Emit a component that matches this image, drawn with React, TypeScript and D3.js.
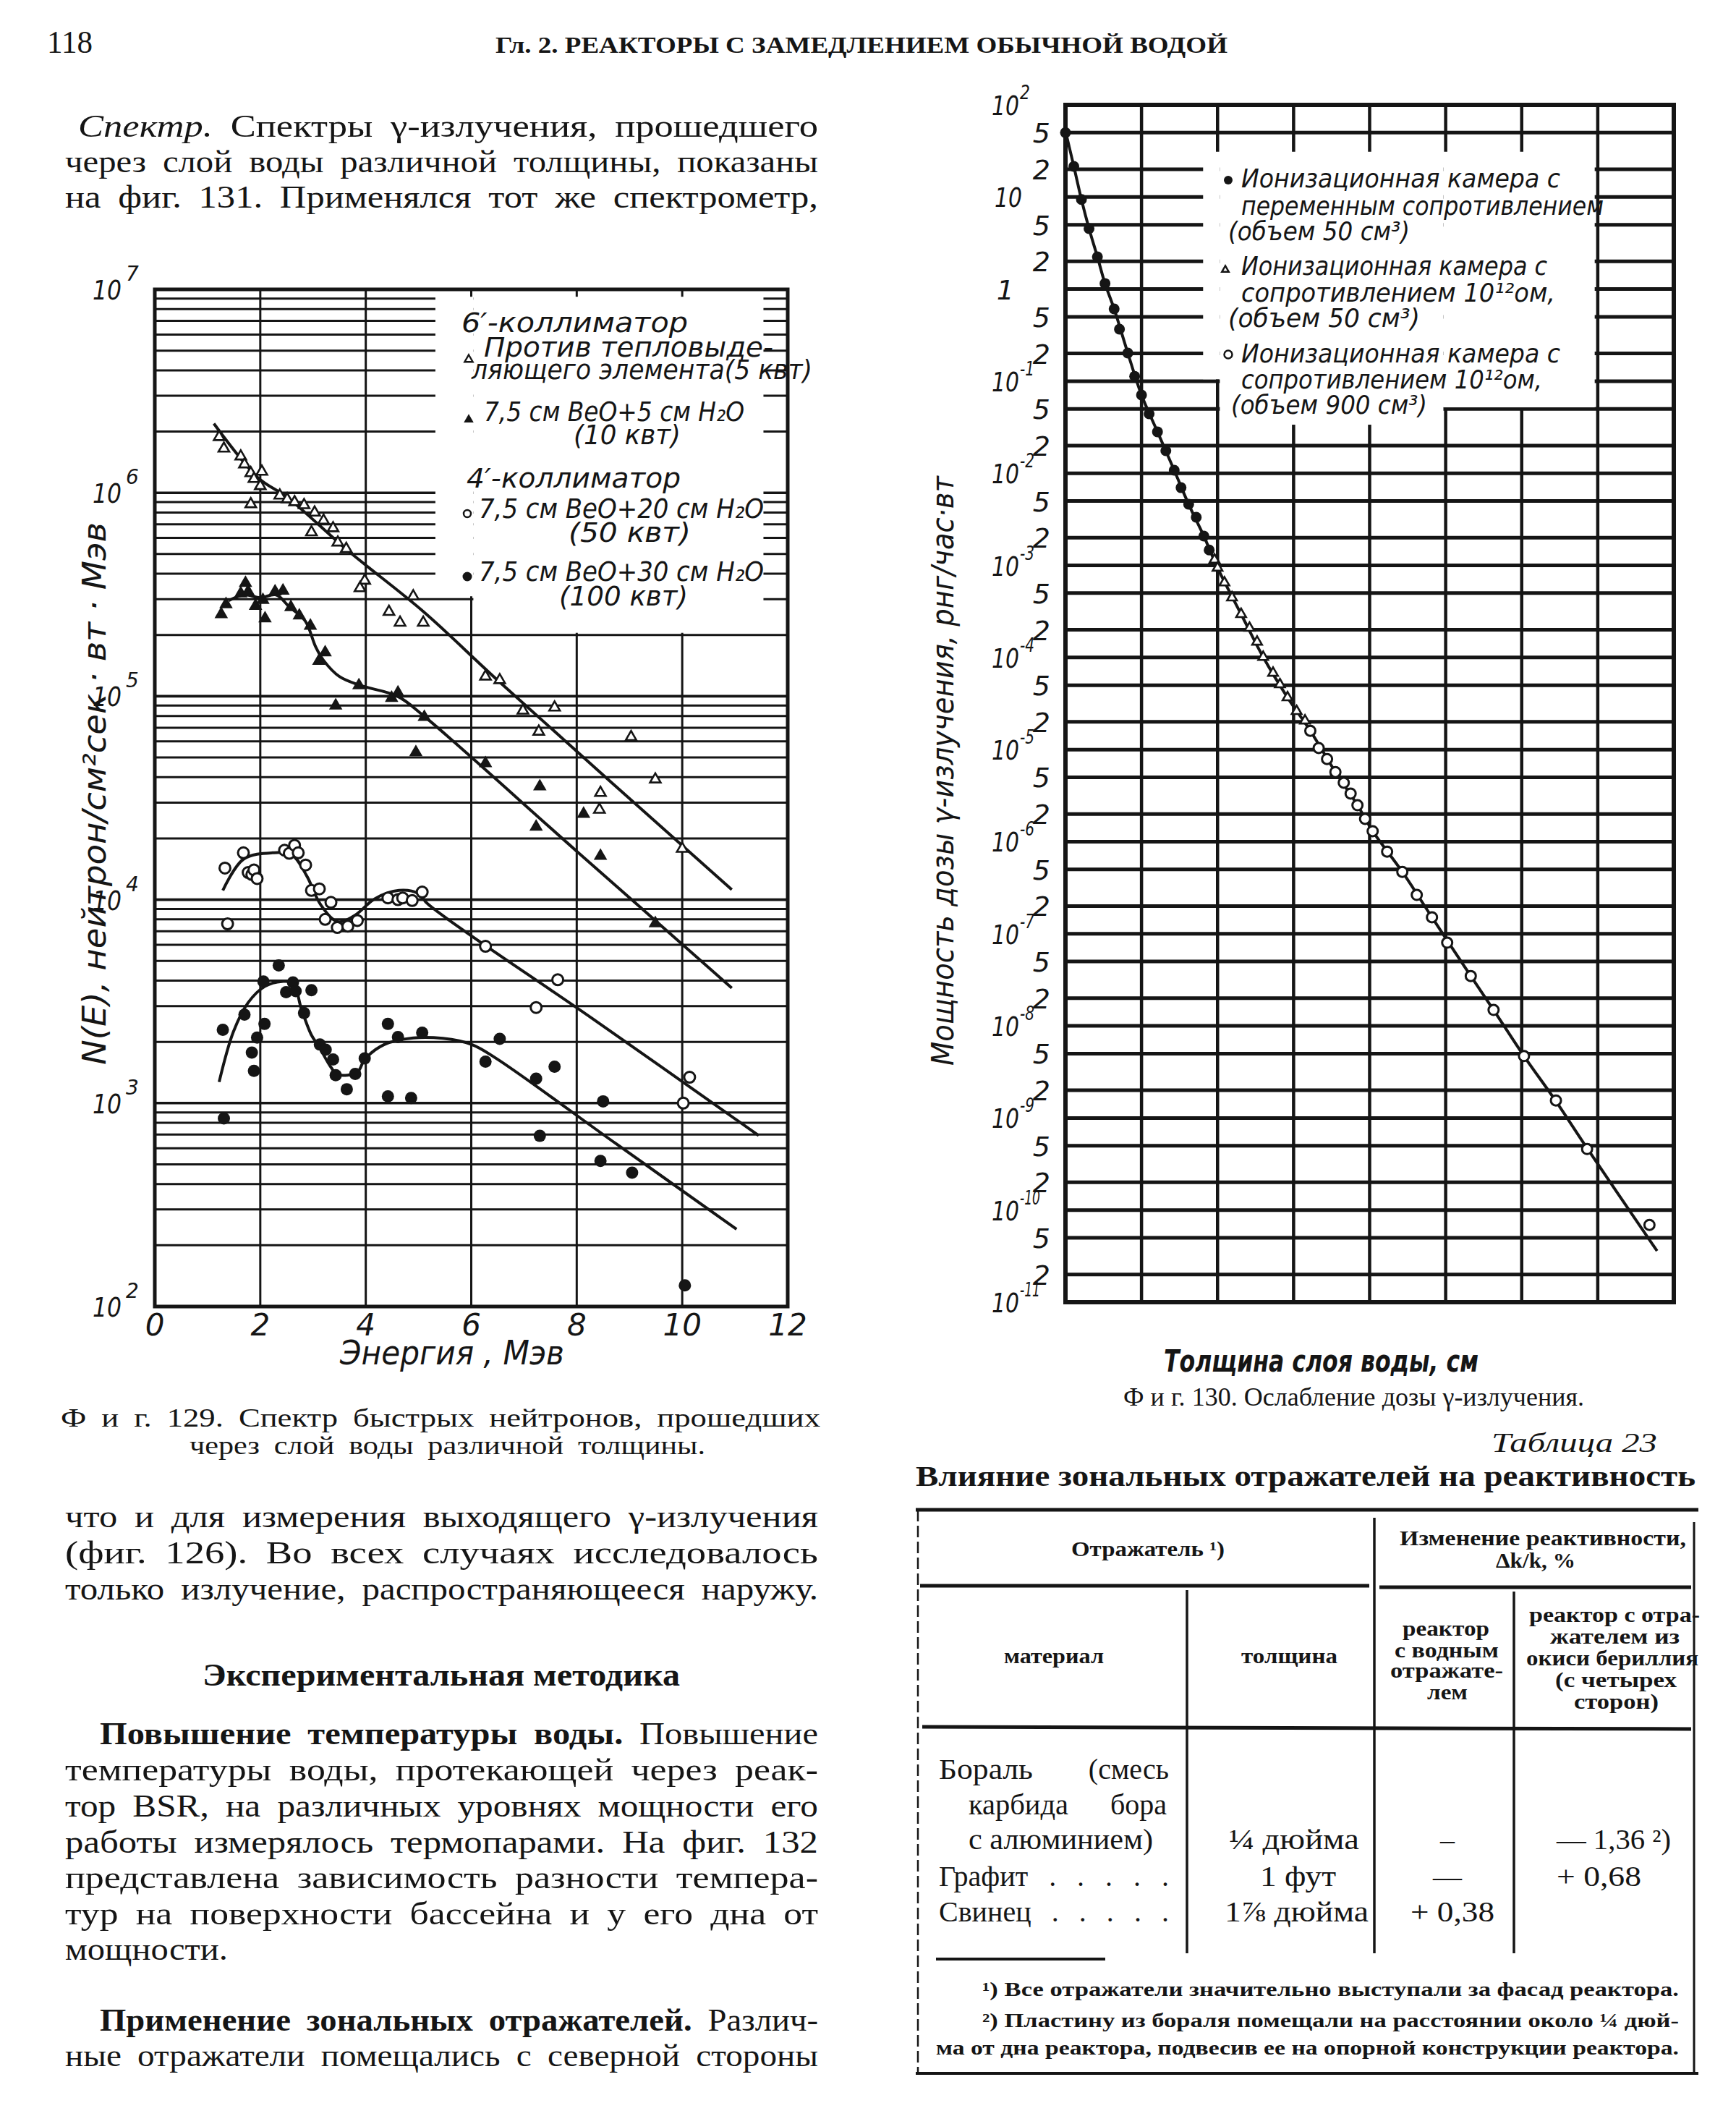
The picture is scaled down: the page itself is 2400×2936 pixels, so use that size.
import { useEffect, useRef } from 'react';
import * as d3 from 'd3';

type Pt = [number, number];

// ---- Фиг. 129: energy (MeV) vs N(E) ----
const energyTicks = [0, 2, 4, 6, 8, 10, 12];
const energyGrid = [2, 4, 6, 8, 10];
const spectrumDecades = [7, 6, 5, 4, 3, 2];

// 6' collimator, против тепловыделяющего элемента (5 квт) — open triangles
const openTri: Pt[] = [
  [1.22, 1.88e6], [1.31, 1.65e6], [1.63, 1.51e6], [1.7, 1.38e6], [1.82, 1.25e6], [1.88, 1.17e6],
  [2.03, 1.27e6], [2.0, 1.08e6], [1.82, 8.8e5], [2.37, 9.7e5], [2.51, 9.3e5], [2.65, 9.0e5],
  [2.83, 8.7e5], [3.03, 8.0e5], [3.2, 7.3e5], [2.97, 6.4e5], [3.38, 6.7e5], [3.47, 5.7e5],
  [3.63, 5.3e5], [3.98, 3.7e5], [3.89, 3.4e5], [4.44, 2.6e5], [4.65, 2.3e5], [4.9, 3.1e5],
  [5.09, 2.3e5], [6.27, 1.25e5], [6.54, 1.2e5], [6.98, 8.5e4], [7.58, 8.8e4], [7.28, 6.7e4],
  [9.03, 6.3e4], [9.49, 3.9e4], [8.45, 3.35e4], [8.43, 2.77e4], [10.0, 1.78e4],
];
const openTriFit: Pt[] = [
  [1.12, 2.19e6], [1.95, 1.19e6], [2.51, 9.5e5], [3.66, 5.2e5], [5.09, 2.61e5], [6.56, 1.16e5], [10.94, 1.12e4],
];

// 7,5 см BeO + 5 см H2O (10 квт) — filled triangles
const filledTri: Pt[] = [
  [1.26, 2.53e5], [1.35, 2.83e5], [1.63, 3.2e5], [1.72, 3.6e5], [1.77, 3.27e5], [1.91, 2.78e5],
  [2.05, 2.97e5], [2.09, 2.41e5], [2.28, 3.27e5], [2.43, 3.3e5], [2.58, 2.74e5], [2.74, 2.49e5],
  [2.95, 2.22e5], [3.23, 1.64e5], [3.11, 1.49e5], [3.87, 1.13e5], [3.43, 9.0e4], [4.61, 1.04e5],
  [4.49, 9.8e4], [5.11, 7.9e4], [4.95, 5.3e4], [6.27, 4.68e4], [7.3, 3.6e4], [7.23, 2.28e4],
  [8.13, 2.64e4], [8.45, 1.64e4], [9.49, 7.65e3],
];
const filledTriFit: Pt[] = [
  [1.4, 2.95e5], [1.7, 3.15e5], [2.0, 3.05e5], [2.3, 3.15e5], [2.55, 2.75e5], [2.85, 2.35e5],
  [3.05, 1.75e5], [3.2, 1.5e5], [3.5, 1.25e5], [3.9, 1.13e5], [4.6, 1.0e5], [5.1, 8.0e4],
  [8.0, 1.73e4], [10.94, 3.68e3],
];

// 7,5 см BeO + 20 см H2O (50 квт) — open circles
const openCirc: Pt[] = [
  [1.33, 1.43e4], [1.68, 1.7e4], [1.77, 1.36e4], [1.84, 1.33e4], [1.88, 1.4e4], [1.94, 1.27e4],
  [1.38, 7.6e3], [2.46, 1.75e4], [2.55, 1.69e4], [2.65, 1.85e4], [2.72, 1.7e4], [2.86, 1.48e4],
  [2.97, 1.11e4], [3.12, 1.13e4], [3.34, 9.7e3], [3.23, 8.0e3], [3.46, 7.3e3], [3.66, 7.4e3],
  [3.84, 7.9e3], [4.42, 1.02e4], [4.61, 1.0e4], [4.7, 1.02e4], [4.88, 9.9e3], [5.07, 1.09e4],
  [6.27, 5.9e3], [7.64, 4.04e3], [7.23, 2.95e3], [10.14, 1.34e3], [10.02, 1.0e3],
];
const openCircFit: Pt[] = [
  [1.29, 1.11e4], [1.68, 1.58e4], [2.23, 1.7e4], [2.6, 1.66e4], [2.88, 1.31e4], [3.15, 9.4e3],
  [3.47, 7.8e3], [3.8, 8.4e3], [4.17, 1.01e4], [4.63, 1.11e4], [5.0, 1.07e4], [5.18, 9.5e3],
  [8.3, 2.6e3], [11.45, 693],
];

// 7,5 см BeO + 30 см H2O (100 квт) — filled circles
const filledCirc: Pt[] = [
  [1.31, 840], [1.29, 2.29e3], [1.7, 2.72e3], [1.84, 1.77e3], [1.88, 1.44e3], [1.94, 2.1e3],
  [2.06, 3.96e3], [2.08, 2.45e3], [2.35, 4.75e3], [2.49, 3.51e3], [2.62, 3.92e3], [2.67, 3.55e3],
  [2.83, 2.77e3], [2.97, 3.59e3], [3.13, 1.94e3], [3.24, 1.83e3], [3.38, 1.64e3], [3.43, 1.37e3],
  [3.64, 1.17e3], [3.8, 1.39e3], [3.98, 1.66e3], [4.42, 2.45e3], [4.61, 2.11e3], [5.07, 2.22e3],
  [4.42, 1.08e3], [4.86, 1.06e3], [6.27, 1.6e3], [6.54, 2.07e3], [7.23, 1.32e3], [7.58, 1.51e3],
  [8.5, 1.02e3], [7.3, 690], [8.45, 520], [9.05, 455], [10.05, 127],
];
const filledCircFit: Pt[] = [
  [1.22, 1.27e3], [1.49, 2.24e3], [1.77, 3.12e3], [2.09, 3.75e3], [2.41, 3.96e3], [2.62, 3.89e3],
  [2.78, 2.9e3], [2.97, 2.16e3], [3.11, 1.9e3], [3.34, 1.5e3], [3.47, 1.38e3], [3.84, 1.42e3],
  [3.98, 1.64e3], [4.35, 1.94e3], [4.9, 2.09e3], [5.46, 2.08e3], [6.01, 1.94e3], [6.47, 1.66e3],
  [8.75, 630], [11.03, 240],
];

// ---- Фиг. 130: water thickness (grid cells, unlabelled) vs dose rate ----
const thicknessGrid = [1, 2, 3, 4, 5, 6, 7];
const doseDecades = [2, 1, 0, -1, -2, -3, -4, -5, -6, -7, -8, -9, -10, -11];
const doseMinor = [2, 5];

const doseFilled: Pt[] = [
  [0, 50], [0.11, 21.5], [0.21, 9.4], [0.31, 4.54], [0.42, 2.24], [0.52, 1.15], [0.64, 0.61],
  [0.71, 0.367], [0.82, 0.202], [0.91, 0.113], [1.0, 0.0708], [1.1, 0.0443], [1.21, 0.0282],
  [1.32, 0.0176], [1.43, 0.0108], [1.52, 6.98e-3], [1.62, 4.61e-3], [1.72, 3.33e-3],
  [1.82, 2.08e-3], [1.89, 1.47e-3],
];
const doseTri: Pt[] = [
  [1.96, 1.15e-3], [2.0, 9.4e-4], [2.09, 6.5e-4], [2.19, 4.47e-4], [2.31, 2.95e-4], [2.42, 2.09e-4],
  [2.52, 1.48e-4], [2.6, 1.01e-4], [2.73, 6.8e-5], [2.82, 5.1e-5], [2.92, 3.68e-5], [3.04, 2.61e-5],
  [3.15, 2.06e-5],
];
const doseCirc: Pt[] = [
  [3.22, 1.6e-5], [3.33, 1.04e-5], [3.44, 7.9e-6], [3.55, 5.7e-6], [3.66, 4.37e-6], [3.75, 3.33e-6],
  [3.84, 2.49e-6], [3.94, 1.77e-6], [4.04, 1.3e-6], [4.23, 7.8e-7], [4.43, 4.7e-7], [4.62, 2.64e-7],
  [4.82, 1.51e-7], [5.02, 8.0e-8], [5.33, 3.48e-8], [5.63, 1.49e-8], [6.03, 4.7e-9], [6.45, 1.55e-9],
  [6.86, 4.6e-10], [7.68, 6.9e-11],
];
const doseFit: Pt[] = [
  [0, 52], [0.11, 21.5], [0.21, 9.4], [0.31, 4.54], [0.42, 2.24], [0.52, 1.15], [0.64, 0.61],
  [0.82, 0.202], [1.0, 0.0708], [1.21, 0.0282], [1.43, 0.0108], [1.62, 4.6e-3], [1.82, 2.08e-3],
  [2.0, 9.4e-4], [2.31, 2.95e-4], [2.6, 1.01e-4], [2.92, 3.68e-5], [3.22, 1.6e-5], [3.55, 5.7e-6],
  [3.84, 2.49e-6], [4.04, 1.3e-6], [4.43, 4.7e-7], [4.82, 1.51e-7], [5.33, 3.48e-8], [5.63, 1.49e-8],
  [6.03, 4.7e-9], [6.45, 1.52e-9], [6.86, 4.7e-10], [7.78, 3.6e-11],
];

const SERIF = '"Liberation Serif", "DejaVu Serif", serif';
const DRAFT = '"DejaVu Sans", "Liberation Sans", sans-serif';
const INK = '#151515';

type G = d3.Selection<SVGGElement, unknown, null, undefined>;
interface TOpts {
  size: number; len?: number; anchor?: string; bold?: boolean; italic?: boolean;
  font?: string; rotate?: number; justify?: boolean; words?: boolean;
}

function put(g: G, s: string | [string, boolean][], x: number, y: number, o: TOpts) {
  const t = g.append('text').attr('x', x).attr('y', y)
    .attr('font-family', o.font ?? SERIF).attr('font-size', o.size)
    .attr('fill', INK).attr('text-anchor', o.anchor ?? 'start');
  if (o.bold) t.attr('font-weight', 'bold');
  if (o.italic) t.attr('font-style', 'italic');
  if (o.rotate) t.attr('transform', `rotate(${o.rotate},${x},${y})`);
  if (typeof s === 'string') t.text(s);
  else s.forEach(([part, b]) => {
    const sp = t.append('tspan').text(part);
    if (b) sp.attr('font-weight', 'bold');
  });
  if (o.len) {
    const node = t.node() as SVGTextElement;
    const full = typeof s === 'string' ? s : s.map(p => p[0]).join('');
    const spaces = (full.match(/ /g) || []).length;
    const nat = node.getComputedTextLength();
    if (o.words && nat < o.len && spaces > 0) {
      t.attr('word-spacing', (o.len - nat) / spaces);
      return t;
    }
    if (o.justify && nat < o.len && spaces > 0) {
      // part of the slack goes into the word gaps, the rest widens the glyphs
      t.attr('word-spacing', Math.min((o.len - nat) / spaces, o.size * 0.22));
    }
    t.attr('textLength', o.len).attr('lengthAdjust', 'spacingAndGlyphs');
  }
  return t;
}

function line(g: G, x1: number, y1: number, x2: number, y2: number, w: number, dash?: string) {
  const l = g.append('line').attr('x1', x1).attr('y1', y1).attr('x2', x2).attr('y2', y2)
    .attr('stroke', INK).attr('stroke-width', w);
  if (dash) l.attr('stroke-dasharray', dash);
  return l;
}

function drawSpectrum(g: G) {
  const sx = d3.scaleLinear().domain([0, 12]).range([214, 1089]);
  const sy = d3.scaleLog().domain([1e2, 1e7]).range([1806, 400]);

  // grid
  for (let k = 2; k <= 6; k++) {
    for (let m = 1; m <= 9; m++) {
      const v = m * Math.pow(10, k);
      if (v <= 1e2) continue;
      line(g, sx(0), sy(v), sx(12), sy(v), m === 1 ? 3.6 : 3);
    }
  }
  energyGrid.forEach(e => line(g, sx(e), sy(1e7), sx(e), sy(1e2), 3));

  // legend knock-out
  g.append('rect').attr('x', sx(5.32)).attr('y', sy(9.2e6))
    .attr('width', sx(6.04) - sx(5.32)).attr('height', sy(3.1e5) - sy(9.2e6)).attr('fill', '#fff');
  g.append('rect').attr('x', sx(6.04)).attr('y', sy(9.2e6))
    .attr('width', sx(11.54) - sx(6.04)).attr('height', sy(2.05e5) - sy(9.2e6)).attr('fill', '#fff');

  g.append('rect').attr('x', sx(0)).attr('y', sy(1e7))
    .attr('width', sx(12) - sx(0)).attr('height', sy(1e2) - sy(1e7))
    .attr('fill', 'none').attr('stroke', INK).attr('stroke-width', 5);

  // axes labels
  energyTicks.forEach(e => put(g, String(e), sx(e), 1846, { size: 42, italic: true, anchor: 'middle', font: DRAFT }));
  spectrumDecades.forEach(k => {
    const y = sy(Math.pow(10, k));
    put(g, '10', 168, y + 14, { size: 38, italic: true, anchor: 'end', font: DRAFT, len: 40 });
    put(g, String(k), 174, y - 12, { size: 28, italic: true, font: DRAFT });
  });
  put(g, 'Энергия , Мэв', 470, 1886, { size: 46, italic: true, font: DRAFT, len: 310 });
  put(g, 'N(E), нейтрон/см²сек · вт · Мэв', 146, 1472, { size: 44, italic: true, font: DRAFT, len: 750, rotate: -90 });

  // fitted curves
  const ln = d3.line<Pt>().x(d => sx(d[0])).y(d => sy(d[1])).curve(d3.curveCatmullRom.alpha(0.5));
  [openTriFit, filledTriFit, openCircFit, filledCircFit].forEach(fit => {
    g.append('path').attr('d', ln(fit) ?? '').attr('fill', 'none')
      .attr('stroke', INK).attr('stroke-width', 4);
  });

  const tri = d3.symbol().type(d3.symbolTriangle);
  openTri.forEach(d => g.append('path').attr('d', tri.size(95)() ?? '')
    .attr('transform', `translate(${sx(d[0])},${sy(d[1])})`)
    .attr('fill', '#fff').attr('stroke', INK).attr('stroke-width', 2.6));
  filledTri.forEach(d => g.append('path').attr('d', tri.size(150)() ?? '')
    .attr('transform', `translate(${sx(d[0])},${sy(d[1])})`).attr('fill', INK));
  openCirc.forEach(d => g.append('circle').attr('cx', sx(d[0])).attr('cy', sy(d[1])).attr('r', 7.5)
    .attr('fill', '#fff').attr('stroke', INK).attr('stroke-width', 3));
  filledCirc.forEach(d => g.append('circle').attr('cx', sx(d[0])).attr('cy', sy(d[1])).attr('r', 8.5)
    .attr('fill', INK));

  // legend
  const L = { size: 38, italic: true, font: DRAFT };
  put(g, '6′-коллиматор', 638, 459, { ...L, len: 313 });
  put(g, 'Против тепловыде-', 669, 493, { ...L, len: 400 });
  put(g, 'ляющего элемента(5 квт)', 652, 524, { ...L, len: 471 });
  put(g, '7,5 см  BeO+5 см H₂O', 669, 582, { ...L, len: 360 });
  put(g, '(10 квт)', 793, 614, { ...L, len: 148 });
  put(g, '4′-коллиматор', 645, 674, { ...L, len: 296 });
  put(g, '7,5 см  BeO+20 см H₂O', 662, 716, { ...L, len: 394 });
  put(g, '(50 квт)', 786, 749, { ...L, len: 169 });
  put(g, '7,5 см  BeO+30 см H₂O', 662, 803, { ...L, len: 394 });
  put(g, '(100 квт)', 773, 837, { ...L, len: 178 });
  g.append('path').attr('d', tri.size(55)() ?? '').attr('transform', 'translate(648,497)')
    .attr('fill', '#fff').attr('stroke', INK).attr('stroke-width', 2.4);
  g.append('path').attr('d', tri.size(80)() ?? '').attr('transform', 'translate(648,580)').attr('fill', INK);
  g.append('circle').attr('cx', 646).attr('cy', 710).attr('r', 5).attr('fill', '#fff')
    .attr('stroke', INK).attr('stroke-width', 2.5);
  g.append('circle').attr('cx', 646).attr('cy', 797).attr('r', 6.5).attr('fill', INK);
}

function drawDose(g: G) {
  const sx = d3.scaleLinear().domain([0, 8]).range([1473, 2314]);
  const sy = d3.scaleLog().domain([1e-11, 1e2]).range([1800, 145]);

  doseDecades.forEach(k => {
    const base = Math.pow(10, k);
    if (k > -11 && k < 2) line(g, sx(0), sy(base), sx(8), sy(base), 5);
    if (k < 2) doseMinor.forEach(m => line(g, sx(0), sy(m * base), sx(8), sy(m * base), 5));
  });
  thicknessGrid.forEach(t => line(g, sx(t), sy(1e2), sx(t), sy(1e-11), 4.5));

  // legend knock-out
  const knock = (x0: number, x1: number, y0: number, y1: number) =>
    g.append('rect').attr('x', sx(x0)).attr('y', sy(y0)).attr('width', sx(x1) - sx(x0))
      .attr('height', sy(y1) - sy(y0)).attr('fill', '#fff');
  knock(1.81, 2.03, 31, 0.105);
  knock(2.03, 4.97, 31, 0.0337);
  knock(4.97, 6.96, 31, 0.052);

  g.append('rect').attr('x', sx(0)).attr('y', sy(1e2)).attr('width', sx(8) - sx(0))
    .attr('height', sy(1e-11) - sy(1e2)).attr('fill', 'none').attr('stroke', INK).attr('stroke-width', 6);

  // tick labels
  const T = { size: 38, italic: true, font: DRAFT };
  doseDecades.forEach(k => {
    const base = Math.pow(10, k);
    const y = sy(base);
    if (k === 0) put(g, '1', 1402, y + 14, { ...T, anchor: 'end' });
    else if (k === 1) put(g, '10', 1413, y + 14, { ...T, anchor: 'end', len: 38 });
    else {
      put(g, '10', 1409, y + 14, { ...T, anchor: 'end', len: 38 });
      put(g, String(k), 1410, y - 8, { size: 27, italic: true, font: DRAFT, len: k < 0 ? (k <= -10 ? 28 : 20) : 14 });
    }
    if (k < 2) doseMinor.forEach(m => put(g, String(m), 1452, sy(m * base) + 14, { ...T, anchor: 'end' }));
  });
  put(g, 'Мощность дозы γ-излучения, рнг/час·вт', 1318, 1473, { size: 42, italic: true, font: DRAFT, len: 815, rotate: -90 });
  put(g, 'Толщина слоя воды, см', 1609, 1896, { size: 42, italic: true, bold: true, font: DRAFT, len: 435 });

  const ln = d3.line<Pt>().x(d => sx(d[0])).y(d => sy(d[1])).curve(d3.curveCatmullRom.alpha(0.5));
  g.append('path').attr('d', ln(doseFit) ?? '').attr('fill', 'none').attr('stroke', INK).attr('stroke-width', 4);

  const tri = d3.symbol().type(d3.symbolTriangle).size(80);
  doseFilled.forEach(d => g.append('circle').attr('cx', sx(d[0])).attr('cy', sy(d[1])).attr('r', 7.5).attr('fill', INK));
  doseTri.forEach(d => g.append('path').attr('d', tri() ?? '').attr('transform', `translate(${sx(d[0])},${sy(d[1])})`)
    .attr('fill', '#fff').attr('stroke', INK).attr('stroke-width', 2.6));
  doseCirc.forEach(d => g.append('circle').attr('cx', sx(d[0])).attr('cy', sy(d[1])).attr('r', 7)
    .attr('fill', '#fff').attr('stroke', INK).attr('stroke-width', 3));

  // legend
  const L = { size: 36, italic: true, font: DRAFT };
  put(g, 'Ионизационная камера с', 1716, 259, { ...L, len: 441 });
  put(g, 'переменным сопротивлением', 1716, 297, { ...L, len: 501 });
  put(g, '(объем 50 см³)', 1698, 332, { ...L, len: 251 });
  put(g, 'Ионизационная камера с', 1716, 380, { ...L, len: 423 });
  put(g, 'сопротивлением 10¹²ом,', 1716, 417, { ...L, len: 434 });
  put(g, '(объем 50 см³)', 1698, 452, { ...L, len: 265 });
  put(g, 'Ионизационная камера с', 1716, 501, { ...L, len: 441 });
  put(g, 'сопротивлением 10¹²ом,', 1716, 537, { ...L, len: 416 });
  put(g, '(объем 900 см³)', 1702, 572, { ...L, len: 271 });
  g.append('circle').attr('cx', 1698).attr('cy', 249).attr('r', 6).attr('fill', INK);
  g.append('path').attr('d', d3.symbol().type(d3.symbolTriangle).size(40)() ?? '')
    .attr('transform', 'translate(1694,373)').attr('fill', '#fff').attr('stroke', INK).attr('stroke-width', 2.4);
  g.append('circle').attr('cx', 1698).attr('cy', 490).attr('r', 5.5).attr('fill', '#fff')
    .attr('stroke', INK).attr('stroke-width', 2.5);
}

function drawPage(g: G) {
  const B = { size: 45, justify: true };
  put(g, '118', 65, 73, { size: 44, len: 63 });
  put(g, 'Гл. 2. РЕАКТОРЫ С ЗАМЕДЛЕНИЕМ ОБЫЧНОЙ ВОДОЙ', 685, 73, { size: 31, bold: true, len: 1012 });

  const p1 = put(g, '', 108, 189, { size: 45 });
  p1.append('tspan').attr('font-style', 'italic').text('Спектр.');
  p1.append('tspan').text(' Спектры γ-излучения, прошедшего');
  p1.attr('word-spacing', 10).attr('textLength', 1023).attr('lengthAdjust', 'spacingAndGlyphs');
  put(g, 'через слой воды различной толщины, показаны', 90, 238, { ...B, len: 1041 });
  put(g, 'на фиг. 131. Применялся тот же спектрометр,', 90, 287, { ...B, len: 1041 });

  put(g, 'Ф и г. 129. Спектр быстрых нейтронов, прошедших', 84, 1972, { size: 36, len: 1050, justify: true });
  put(g, 'через слой воды различной толщины.', 262, 2010, { size: 36, len: 713, justify: true });

  put(g, 'что и для измерения выходящего γ-излучения', 90, 2111, { ...B, len: 1041 });
  put(g, '(фиг. 126). Во всех случаях исследовалось', 90, 2161, { ...B, len: 1041 });
  put(g, 'только излучение, распространяющееся наружу.', 90, 2211, { ...B, len: 1041 });

  put(g, 'Экспериментальная методика', 280, 2330, { size: 44, bold: true, len: 660 });

  put(g, [['Повышение температуры воды.', true], [' Повышение', false]], 138, 2411, { ...B, len: 993 });
  put(g, 'температуры воды, протекающей через реак-', 90, 2461, { ...B, len: 1041 });
  put(g, 'тор BSR, на различных уровнях мощности его', 90, 2511, { ...B, len: 1041 });
  put(g, 'работы измерялось термопарами. На фиг. 132', 90, 2561, { ...B, len: 1041 });
  put(g, 'представлена зависимость разности темпера-', 90, 2610, { ...B, len: 1041 });
  put(g, 'тур на поверхности бассейна и у его дна от', 90, 2660, { ...B, len: 1041 });
  put(g, 'мощности.', 90, 2709, { size: 45, len: 225 });

  put(g, [['Применение зональных отражателей.', true], [' Различ-', false]], 138, 2807, { ...B, len: 993 });
  put(g, 'ные отражатели помещались с северной стороны', 90, 2856, { ...B, len: 1041 });

  // right column
  put(g, 'Ф и г. 130. Ослабление дозы γ-излучения.', 1553, 1943, { size: 36, len: 637, justify: true });
  put(g, 'Таблица 23', 2062, 2007, { size: 37, italic: true, len: 229 });
  put(g, 'Влияние зональных отражателей на реактивность', 1266, 2054, { size: 40, bold: true, len: 1078 });

  // table rules
  line(g, 1266, 2087, 2348, 2087, 5);
  line(g, 1269, 2087, 1269, 2866, 2.5, '16 6');
  line(g, 2342, 2104, 2342, 2866, 3);
  line(g, 1900, 2098, 1900, 2700, 3.5);
  line(g, 1272, 2192, 1893, 2192, 5);
  line(g, 1907, 2194, 2338, 2194, 5);
  line(g, 1641, 2198, 1641, 2700, 3.5);
  line(g, 2093, 2200, 2093, 2700, 3.5);
  line(g, 1275, 2387, 2338, 2390, 5);
  line(g, 1294, 2708, 1528, 2708, 4);
  line(g, 1266, 2866, 2348, 2866, 4);

  const H = { size: 29, bold: true };
  put(g, 'Отражатель ¹)', 1481, 2151, { ...H, len: 212 });
  put(g, 'Изменение реактивности,', 1935, 2136, { ...H, len: 396 });
  put(g, 'Δk/k, %', 2068, 2167, { ...H, len: 110 });
  put(g, 'материал', 1388, 2299, { ...H, len: 138 });
  put(g, 'толщина', 1716, 2299, { ...H, len: 133 });
  put(g, 'реактор', 1939, 2261, { ...H, len: 120 });
  put(g, 'с водным', 1928, 2291, { ...H, len: 144 });
  put(g, 'отражате-', 1922, 2319, { ...H, len: 156 });
  put(g, 'лем', 1973, 2349, { ...H, len: 56 });
  put(g, 'реактор с отра-', 2114, 2242, { ...H, len: 236 });
  put(g, 'жателем из', 2143, 2272, { ...H, len: 179 });
  put(g, 'окиси бериллия', 2110, 2302, { ...H, len: 238 });
  put(g, '(с четырех', 2150, 2332, { ...H, len: 168 });
  put(g, 'сторон)', 2176, 2362, { ...H, len: 117 });

  const R = { size: 40 };
  put(g, 'Бораль', 1298, 2459, { ...R, len: 130 });
  put(g, '(смесь', 1616, 2459, { ...R, anchor: 'end' });
  put(g, 'карбида', 1339, 2508, { ...R, len: 138 });
  put(g, 'бора', 1613, 2508, { ...R, anchor: 'end' });
  put(g, 'с алюминием)', 1339, 2556, { ...R, len: 255 });
  put(g, 'Графит . . . . .', 1298, 2607, { ...R, len: 318, words: true });
  put(g, 'Свинец . . . . .', 1298, 2656, { ...R, len: 318, words: true });
  put(g, '¼ дюйма', 1699, 2556, { ...R, len: 180 });
  put(g, '1 фут', 1742, 2607, { ...R, len: 105 });
  put(g, '1⅞ дюйма', 1693, 2656, { ...R, len: 199 });
  put(g, '–', 2001, 2556, { ...R, anchor: 'middle' });
  put(g, '—', 2001, 2607, { ...R, anchor: 'middle' });
  put(g, '+ 0,38', 1950, 2656, { ...R, len: 116 });
  put(g, '— 1,36 ²)', 2152, 2556, { ...R, len: 158 });
  put(g, '+ 0,68', 2152, 2607, { ...R, len: 117 });

  const F = { size: 27, bold: true };
  put(g, '¹) Все отражатели значительно выступали за фасад реактора.', 1358, 2759, { ...F, len: 963 });
  put(g, '²) Пластину из бораля помещали на расстоянии около ¼ дюй-', 1358, 2802, { ...F, len: 963 });
  put(g, 'ма от дна реактора, подвесив ее на опорной конструкции реактора.', 1294, 2840, { ...F, len: 1027 });
}

export default function App() {
  const ref = useRef<SVGSVGElement>(null);

  useEffect(() => {
    const svg = d3.select(ref.current);
    svg.selectAll('*').remove();
    svg.append('rect').attr('width', 2400).attr('height', 2936).attr('fill', '#fff');
    const page = svg.append('g') as unknown as G;
    drawSpectrum(page);
    drawDose(page);
    drawPage(page);
  }, []);

  return (
    <>
      <style>{'body{margin:0;background:#fff}'}</style>
      <svg ref={ref} width={2400} height={2936} style={{ display: 'block' }} />
    </>
  );
}
